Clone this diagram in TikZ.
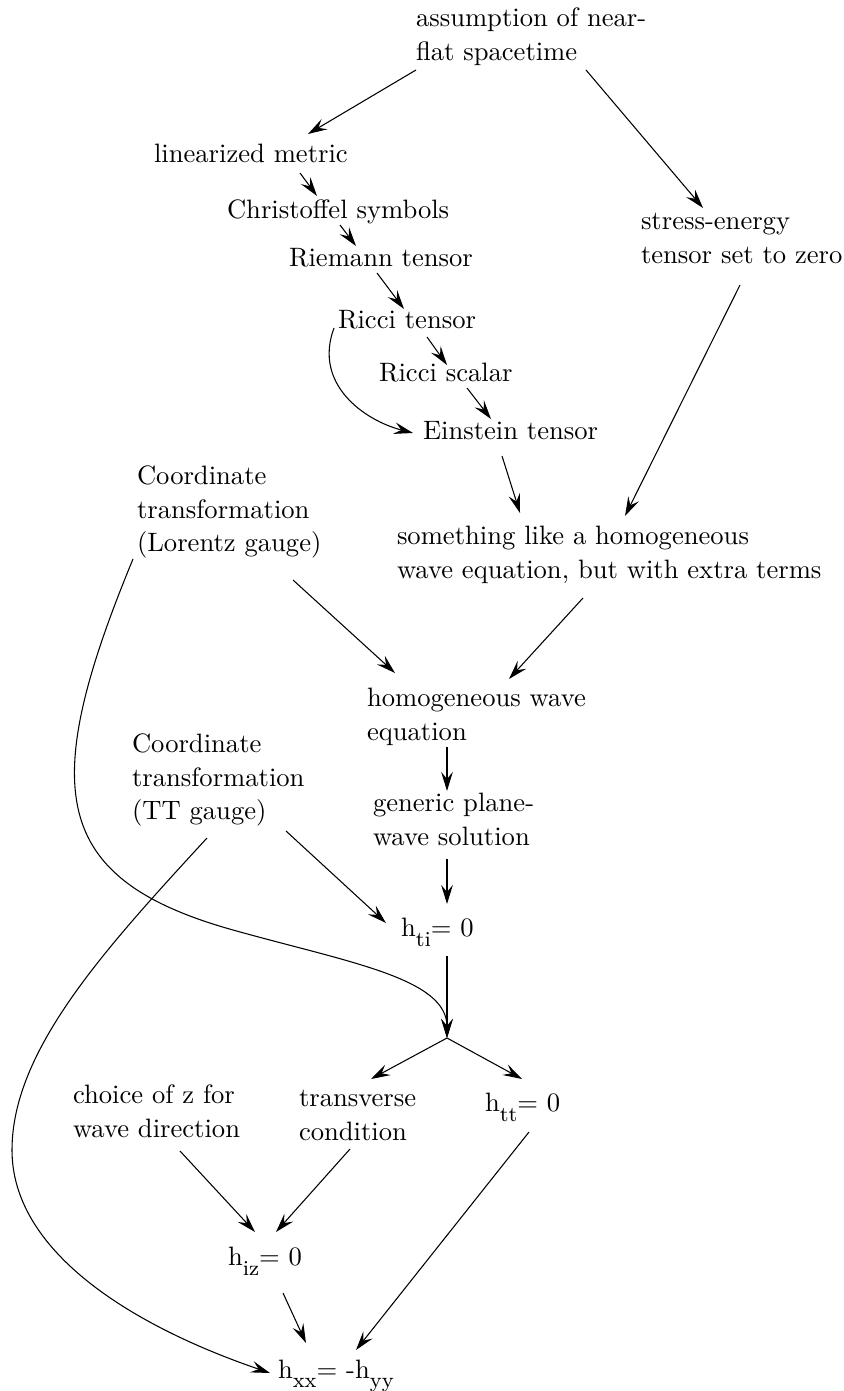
\documentclass[tikz,border=0pt]{standalone}
\usetikzlibrary{arrows.meta}
\newcommand\mytopstrut{\rule{0pt}{8pt}}
\newcommand\mysub[1]{\raisebox{-3.4pt}{\footnotesize #1}}
\begin{document}
\begin{tikzpicture}[x=0.3759pt,y=-0.3759pt,
  lbl/.style={anchor=north west, inner sep=0pt, outer sep=0pt, align=left,
    font=\fontsize{10pt}{12.5pt}\selectfont},
  arr/.style={-{Stealth[length=7.2pt,width=4.4pt,inset=2.7pt]}, line width=0.4pt}]
\useasboundingbox (0,0) rectangle (844,1391);

% nodes (left, top)
\node[lbl] (assume)   at (416,5.7)    {\mytopstrut assumption of near-\\flat spacetime};
\node[lbl] (linear)   at (154,141.4)  {\mytopstrut linearized metric};
\node[lbl] (christ)   at (227,197)    {\mytopstrut Christoffel symbols};
\node[lbl] (riemann)  at (289,245.4)  {\mytopstrut Riemann tensor};
\node[lbl] (ricci)    at (338,307)    {\mytopstrut Ricci tensor};
\node[lbl] (scalar)   at (379,360.4)  {\mytopstrut Ricci scalar};
\node[lbl] (einstein) at (423,418.7)  {\mytopstrut Einstein tensor};
\node[lbl] (stress)   at (641,208.7)  {\mytopstrut stress-energy\\tensor set to zero};
\node[lbl] (lorentz)  at (137,463.7)  {\mytopstrut Coordinate\\transformation\\(Lorentz gauge)};
\node[lbl] (something) at (397,523.7) {\mytopstrut something like a homogeneous\\wave equation, but with extra terms};
\node[lbl] (homog)    at (367,685.7)  {\mytopstrut homogeneous wave\\equation};
\node[lbl] (tt)       at (132,731.7)  {\mytopstrut Coordinate\\transformation\\(TT gauge)};
\node[lbl] (generic)  at (373,790.7)  {\mytopstrut generic plane-\\wave solution};
\node[lbl] (hti)      at (401,915.7)  {\mytopstrut h\mysub{ti}= 0};
\node[lbl] (choice)   at (73,1082.7)  {\mytopstrut choice of z for\\wave direction};
\node[lbl] (trans)    at (299,1085.7) {\mytopstrut transverse\\condition};
\node[lbl] (htt)      at (485,1090.7) {\mytopstrut h\mysub{tt}= 0};
\node[lbl] (hiz)      at (228,1244.7) {\mytopstrut h\mysub{iz}= 0};
\node[lbl] (hxx)      at (278,1357.2) {\mytopstrut h\mysub{xx}= -h\mysub{yy}};

\coordinate (junc) at (447,1038);
\coordinate (lormid) at (233,930);
\coordinate (ttmid) at (12,1150);

% connectors
\draw[arr] ([shift={(0,64.3)}]assume.north west) -- ([shift={(154,-7.4)}]linear.north west);
\draw[arr] ([shift={(170,64.3)}]assume.north west) -- ([shift={(62,-0.7)}]stress.north west);
\draw[arr] ([shift={(146,31.6)}]linear.north west) -- ([shift={(90,-1)}]christ.north west);
\draw[arr] ([shift={(113,28)}]christ.north west) -- ([shift={(67,0.6)}]riemann.north west);
\draw[arr] ([shift={(88,27.6)}]riemann.north west) -- ([shift={(66,2)}]ricci.north west);
\draw[arr] ([shift={(89,30)}]ricci.north west) -- ([shift={(68,4.6)}]scalar.north west);
\draw[arr] ([shift={(88,27.6)}]scalar.north west) -- ([shift={(68,0.3)}]einstein.north west);
\draw[arr] ([shift={(-4,21)}]ricci.north west) .. controls +(-21,56.4) and +(-48.5,-12.5) .. ([shift={(-10,14.3)}]einstein.north west);
\draw[arr] ([shift={(79,37.3)}]einstein.north west) -- ([shift={(123,-10.7)}]something.north west);
\draw[arr] ([shift={(99,76.3)}]stress.north west) -- ([shift={(228,-7.7)}]something.north west);
\draw[arr] ([shift={(156,116.3)}]lorentz.north west) -- ([shift={(28,-12.7)}]homog.north west);
\draw[arr] ([shift={(186,74.3)}]something.north west) -- ([shift={(142,-6.7)}]homog.north west);
\draw[arr] ([shift={(80,61.3)}]homog.north west) -- ([shift={(74,0.3)}]generic.north west);
\draw[arr] ([shift={(74,68.3)}]generic.north west) -- ([shift={(46,-11.7)}]hti.north west);
\draw[arr] ([shift={(154,99.3)}]tt.north west) -- ([shift={(-15,7.3)}]hti.north west);
\draw[arr] ([shift={(46,40.3)}]hti.north west) -- (junc);
\draw[arr] ([shift={(-4,95.3)}]lorentz.north west) .. controls +(-95,230) and +(-183,-51.3) .. (lormid)
   .. controls +(115.6,32.4) and +(0,-60) .. (junc);
\draw[arr] (junc) -- ([shift={(72,-6.7)}]trans.north west);
\draw[arr] (junc) -- ([shift={(37,-11.7)}]htt.north west);
\draw[arr] ([shift={(107,68.3)}]choice.north west) -- ([shift={(27,-12.7)}]hiz.north west);
\draw[arr] ([shift={(51,63.3)}]trans.north west) -- ([shift={(48,-12.7)}]hiz.north west);
\draw[arr] ([shift={(44,41.3)}]htt.north west) -- ([shift={(78,-7.2)}]hxx.north west);
\draw[arr] ([shift={(55,48.3)}]hiz.north west) -- ([shift={(28,-14.2)}]hxx.north west);
\draw[arr] ([shift={(75,106.3)}]tt.north west) .. controls +(-101.5,110.4) and +(0,-100) .. (ttmid)
   .. controls +(0,100) and +(-142,-48.6) .. ([shift={(-8,15.8)}]hxx.north west);
\end{tikzpicture}
\end{document}
